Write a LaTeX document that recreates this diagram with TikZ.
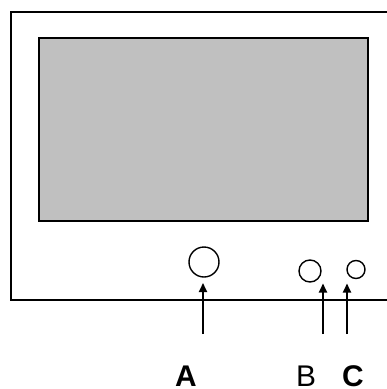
\documentclass[tikz,border=0pt]{standalone}
\usepackage{fontspec}
\setmainfont{Liberation Sans}
\usetikzlibrary{arrows.meta}
\usetikzlibrary{positioning}
\usetikzlibrary{calc}

\begin{document}
\begin{tikzpicture}[x=1bp,y=-1bp, every node/.style={inner sep=0pt},
  knob/.style={draw=black, circle, line width=1.4bp},
  pointer/.style={draw=black, line width=2bp, -{Triangle[length=9bp,width=8bp]}},
  letter/.style={anchor=base, font=\fontsize{30}{30}\selectfont}]
\useasboundingbox (0,0) rectangle (387,389);

% housing and screen
\draw[line width=2bp] (387,11.5) -- (11,11.5) -- (11,299.5) -- (387,299.5);
\draw[line width=2bp, fill={rgb,255:red,192;green,192;blue,192}] (38.5,37.5) rectangle (368,221);

% knobs
\node[knob, minimum size=30bp] (knobA) at (204,262) {};
\node[knob, minimum size=22bp] (knobB) at (310,271) {};
\node[knob, minimum size=18bp] (knobC) at (356,269.5) {};

% pointers
\coordinate (tailA) at (203,334);
\coordinate (tipA) at (203,283);
\coordinate (tailB) at (323,334);
\coordinate (tipB) at (323,283.5);
\coordinate (tailC) at (347,334);
\coordinate (tipC) at (347,283.5);
\draw[pointer] (tailA) -- (tipA);
\draw[pointer] (tailB) -- (tipB);
\draw[pointer] (tailC) -- (tipC);

% labels
\node[letter] (labA) at (186,386) {\textbf{A}};
\node[letter] (labB) at (306,386) {B};
\node[letter] (labC) at (353,386) {\textbf{C}};
\end{tikzpicture}
\end{document}
